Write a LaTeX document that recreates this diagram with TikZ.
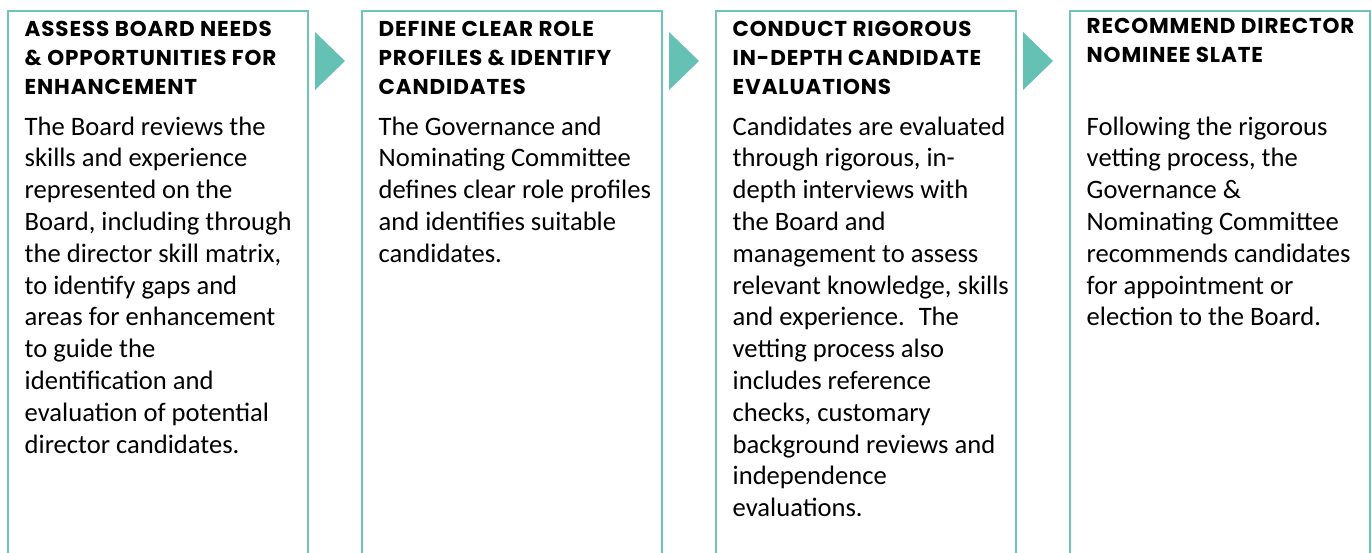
\documentclass[tikz,border=0pt]{standalone}
\usepackage{fontspec}
\setmainfont{Carlito}
\newfontfamily\headfont{Poppins}[LetterSpace=4]
\definecolor{tealline}{RGB}{110,196,184}
\definecolor{tealfill}{RGB}{100,193,180}
\tikzset{
  panel/.style={draw=tealline, line width=2pt},
  headtext/.style={anchor=base west, inner sep=0pt, text=black,
    font=\headfont\bfseries\fontsize{21.5}{29}\selectfont},
  bodytext/.style={anchor=base west, inner sep=0pt, text=black,
    font=\fontsize{26.6}{31.8}\selectfont},
  chevron/.style={fill=tealfill, draw=none}
}
\newcommand{\stepcol}[1]{\parbox[t]{292pt}{\raggedright #1}}
\begin{document}
\begin{tikzpicture}[x=1pt, y=-1pt]
  \useasboundingbox (0,0) rectangle (1372,552);
  \fill[white] (0,0) rectangle (1372,552);

  % open-bottom panels
  \foreach \l/\n in {8/p1, 362/p2, 716/p3, 1070/p4}{
    \draw[panel] (\l,553) |- (\l+300,10.5) -- (\l+300,553);
  }

  % arrow chevrons between panels
  \foreach \b in {315, 669, 1023}{
    \fill[chevron] (\b,32) -- (\b+30,61) -- (\b,90) -- cycle;
  }

  % step 1
  \node[headtext] (h1) at (24.5,36.5) {\stepcol{ASSESS BOARD NEEDS\\ \& OPPORTUNITIES FOR\\ ENHANCEMENT}};
  \node[bodytext] (b1) at (24.5,135) {\stepcol{The Board reviews the\\ skills and experience\\ represented on the\\ Board, including through\\ the director skill matrix,\\ to identify gaps and\\ areas for enhancement\\ to guide the\\ identification and\\ evaluation of potential\\ director candidates.}};

  % step 2
  \node[headtext] (h2) at (378.5,36.5) {\stepcol{DEFINE CLEAR ROLE\\ PROFILES \& IDENTIFY\\ CANDIDATES}};
  \node[bodytext] (b2) at (378.5,135) {\stepcol{The Governance and\\ Nominating Committee\\ defines clear role profiles\\ and identifies suitable\\ candidates.}};

  % step 3
  \node[headtext] (h3) at (732.5,36.5) {\stepcol{CONDUCT RIGOROUS\\ IN-DEPTH CANDIDATE\\ EVALUATIONS}};
  \node[bodytext] (b3) at (732.5,135) {\stepcol{Candidates are evaluated\\ through rigorous, in-\\ depth interviews with\\ the Board and\\ management to assess\\ relevant knowledge, skills\\ and experience.~ The\\ vetting process also\\ includes reference\\ checks, customary\\ background reviews and\\ independence\\ evaluations.}};

  % step 4
  \node[headtext] (h4) at (1086.5,33) {\stepcol{RECOMMEND DIRECTOR\\ NOMINEE SLATE}};
  \node[bodytext] (b4) at (1086.5,135) {\stepcol{Following the rigorous\\ vetting process, the\\ Governance \&\\ Nominating Committee\\ recommends candidates\\ for appointment or\\ election to the Board.}};
\end{tikzpicture}
\end{document}
